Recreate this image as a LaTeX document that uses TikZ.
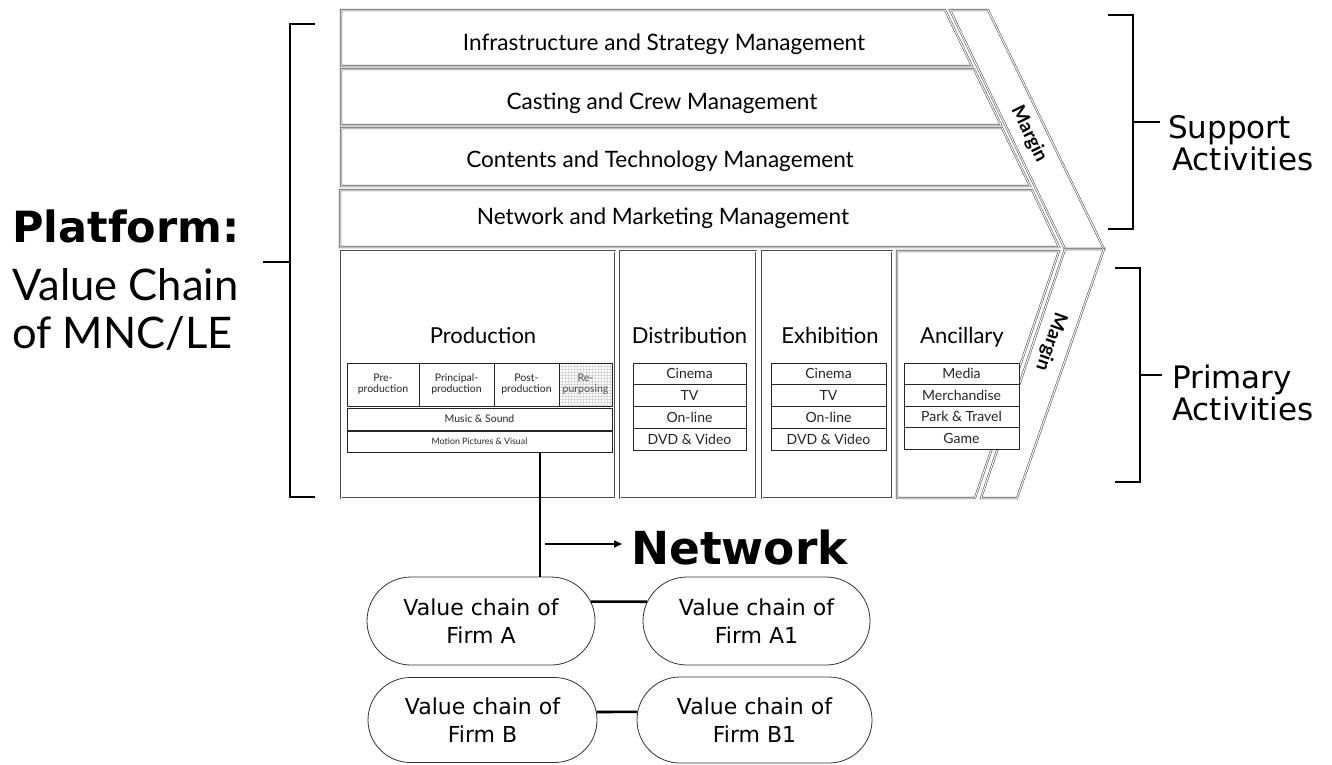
\documentclass[tikz,border=0pt]{standalone}
\usepackage{fontspec}
\setmainfont{Lato}
\newfontfamily\dv{DejaVu Sans}
\usetikzlibrary{shapes.misc,arrows.meta}
\begin{document}
\begin{tikzpicture}[x=1pt,y=-1pt,
  dbl/.style={draw=black!70, double=white, double distance=1pt, line width=0.55pt},
  cell/.style={draw=black!85, line width=0.6pt, fill=white, inner sep=0pt, text=black!85, align=center},
  celltext/.style={font=\fontsize{14}{16}\selectfont},
  bartext/.style={anchor=base, inner sep=0pt, font=\fontsize{22.6}{24}\selectfont},
  titletext/.style={anchor=base, inner sep=0pt, font=\fontsize{22}{24}\selectfont},
  pill/.style={rounded rectangle, draw=black!80, line width=0.8pt, fill=white, align=center, inner sep=0pt, font=\dv\fontsize{22}{28}\selectfont},
  brk/.style={line width=2.6pt},
  link/.style={line width=2.6pt},
  marg/.style={inner sep=0pt, font=\bfseries\fontsize{19}{20}\selectfont},
  side/.style={anchor=base west, inner sep=0pt, font=\dv\fontsize{31}{33}\selectfont},
]
\useasboundingbox (0,0) rectangle (1332,764);

% support activity bars
\draw[dbl] (341,10) -- (945,10) -- (972,66) -- (341,66) -- cycle;
\draw[dbl] (341,69) -- (974,69) -- (1001,125) -- (341,125) -- cycle;
\draw[dbl] (341,128) -- (1002,128) -- (1030,186) -- (341,186) -- cycle;
\draw[dbl] (340,190) -- (1032,190) -- (1059,247) -- (340,247) -- cycle;
\node[bartext] (s1) at (664,50) {Infrastructure and Strategy Management};
\node[bartext] (s2) at (662,109) {Casting and Crew Management};
\node[bartext] (s3) at (660,167) {Contents and Technology Management};
\node[bartext] (s4) at (663,224) {Network and Marketing Management};

% margins
\draw[dbl] (950,10) -- (988,10) -- (1104,249) -- (1065,249) -- cycle;
\draw[dbl] (1065,249) -- (1104,249) -- (1017,498) -- (981,498) -- cycle;
\node[marg, rotate=-64] (m1) at (1029,134) {Margin};
\node[marg, rotate=-109.5] (m2) at (1051,342) {Margin};

% primary activity boxes
\draw[dbl] (341,251) rectangle (615,498);
\draw[dbl] (620,251) rectangle (756,498);
\draw[dbl] (762,251) rectangle (892,498);
\draw[dbl] (897,251) -- (1059,251) -- (975,498) -- (897,498) -- cycle;
\node[titletext] (tp) at (483,343) {Production};
\node[titletext] (td) at (689.5,343) {Distribution};
\node[titletext] (te) at (830,343) {Exhibition};
\node[titletext] (ta) at (962,343) {Ancillary};

% production sub cells
\begin{scope}[font=\fontsize{10.5}{11}\selectfont]
\node[cell, minimum width=72, minimum height=43] (p1) at (383,384.5) {Pre-\\production};
\node[cell, minimum width=75, minimum height=43] (p2) at (456.5,384.5) {Principal-\\production};
\node[cell, minimum width=65, minimum height=43] (p3) at (526.5,384.5) {Post-\\production};
\foreach \gx in {562,565,...,610} \draw[black!15, line width=0.4pt] (\gx,363) -- (\gx,406);
\foreach \gy in {366,369,...,405} \draw[black!15, line width=0.4pt] (559,\gy) -- (612,\gy);
\node[cell, fill=none, text=black!70, minimum width=53, minimum height=43] (p4) at (585.5,384.5) {Re-\\purposing};
\node[cell, minimum width=265, minimum height=22] (mus) at (479.5,419) {Music \& Sound};
\end{scope}
\node[cell, minimum width=265, minimum height=21, font=\fontsize{8.8}{10}\selectfont] (mot) at (479.5,441.5) {Motion Pictures \& Visual};

% distribution / exhibition / ancillary cells
\begin{scope}[celltext]
\node[cell, minimum width=113, minimum height=21.75] (d1) at (689.5,373.9) {Cinema};
\node[cell, minimum width=113, minimum height=21.75] (d2) at (689.5,395.6) {TV};
\node[cell, minimum width=113, minimum height=21.75] (d3) at (689.5,417.4) {On-line};
\node[cell, minimum width=113, minimum height=21.75] (d4) at (689.5,439.1) {DVD \& Video};
\node[cell, minimum width=115, minimum height=21.75] (e1) at (828.5,373.9) {Cinema};
\node[cell, minimum width=115, minimum height=21.75] (e2) at (828.5,395.6) {TV};
\node[cell, minimum width=115, minimum height=21.75] (e3) at (828.5,417.4) {On-line};
\node[cell, minimum width=115, minimum height=21.75] (e4) at (828.5,439.1) {DVD \& Video};
\node[cell, minimum width=115, minimum height=21.5] (a1) at (961.5,373.75) {Media};
\node[cell, minimum width=115, minimum height=21.5] (a2) at (961.5,395.25) {Merchandise};
\node[cell, minimum width=115, minimum height=21.5] (a3) at (961.5,416.75) {Park \& Travel};
\node[cell, minimum width=115, minimum height=21.5] (a4) at (961.5,438.25) {Game};
\end{scope}

% network
\node[pill, minimum width=228, minimum height=88] (fa) at (481,621) {Value chain of\\Firm A};
\node[pill, minimum width=227, minimum height=88] (fa1) at (756.5,621) {Value chain of\\Firm A1};
\node[pill, minimum width=229, minimum height=85] (fb) at (482.5,720) {Value chain of\\Firm B};
\node[pill, minimum width=235, minimum height=86] (fb1) at (754.5,720) {Value chain of\\Firm B1};
\coordinate (vx) at (540,0);
\draw[link] (mot.south -| vx) -- (fa.north -| vx);
\draw[link] (fa.10) -- (fa1.170);
\draw[link] (fb.4) -- (fb1.176);
\node[anchor=base west, inner sep=0pt, font=\dv\bfseries\fontsize{45.5}{47}\selectfont] (net) at (631,564) {Network};
\coordinate (as) at (545,544);
\coordinate (ae) at (622,544);
\draw[line width=1.6pt, -{Triangle[length=8pt,width=7pt]}] (as) -- (ae);

% platform label and bracket
\node[anchor=base west, inner sep=0pt, font=\dv\bfseries\fontsize{43}{45}\selectfont] (pf) at (12,242) {Platform:};
\node[anchor=base west, inner sep=0pt, font=\fontsize{43.5}{45}\selectfont] (pv) at (12,300) {Value Chain};
\node[anchor=base west, inner sep=0pt, font=\fontsize{43.5}{45}\selectfont] (pm) at (12,348) {of MNC/LE};
\draw[brk] (315,24) -| (290,497) -- (315,497);
\draw[brk] (263,262) -- (290,262);

% support / primary brackets
\draw[brk] (1108,15) -| (1133,229) -- (1108,229);
\draw[brk] (1133,122) -- (1160,122);
\draw[brk] (1115,268) -| (1140,482) -- (1115,482);
\draw[brk] (1140,375) -- (1162,375);
\node[side] (su1) at (1168,138) {Support};
\node[side] (su2) at (1172,170) {Activities};
\node[side] (pr1) at (1172,388) {Primary};
\node[side] (pr2) at (1172,420) {Activities};
\end{tikzpicture}
\end{document}
